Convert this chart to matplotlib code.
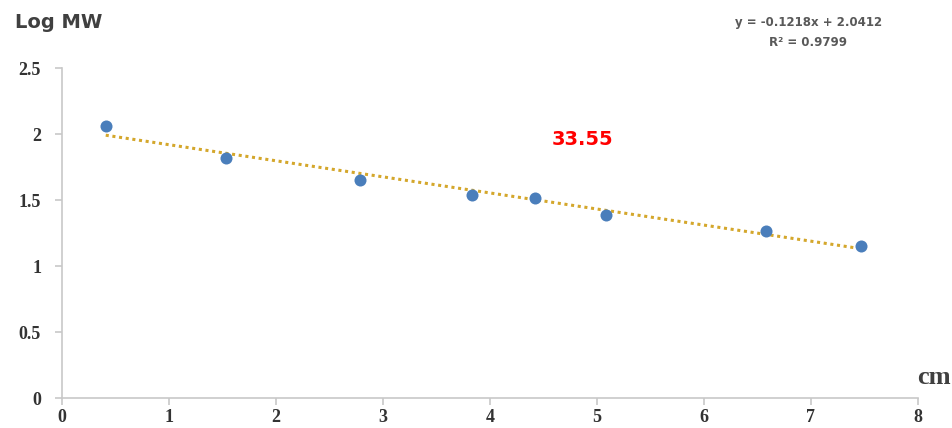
import matplotlib.pyplot as plt

# migration distance (cm) and log molecular weight of the markers
dist_cm = [0.41, 1.53, 2.79, 3.83, 4.42, 5.09, 6.58, 7.47]
log_mw = [2.06, 1.82, 1.65, 1.54, 1.515, 1.39, 1.265, 1.15]

# linear trendline coefficients
slope = -0.1218
intercept = 2.0412
r_squared = 0.9799
sample_mw = "33.55"

x_ticks = [0, 1, 2, 3, 4, 5, 6, 7, 8]
y_ticks = [0, 0.5, 1, 1.5, 2, 2.5]

fig = plt.figure(figsize=(9.52, 4.28), dpi=100)
ax = fig.add_axes([0.065, 0.070, 0.899, 0.771])

tx = [min(dist_cm), max(dist_cm)]
ty = [slope * v + intercept for v in tx]
ax.plot(tx, ty, linestyle=(0, (1, 1.2)), color='#D4A72C', linewidth=2.2, zorder=2)
ax.scatter(dist_cm, log_mw, s=75, color='#4A7EBB', zorder=3, linewidths=0)

ax.set_xlim(0, 8)
ax.set_ylim(0, 2.5)
ax.set_xticks(x_ticks)
ax.set_yticks(y_ticks)
ax.set_xticklabels([str(t) for t in x_ticks])
ax.set_yticklabels([f'{t:g}' for t in y_ticks])
for lab in ax.get_xticklabels() + ax.get_yticklabels():
    lab.set_fontfamily('Liberation Serif')
    lab.set_fontweight('bold')
    lab.set_fontsize(13)
    lab.set_color('#333333')

for side in ['top', 'right']:
    ax.spines[side].set_visible(False)
for side in ['left', 'bottom']:
    ax.spines[side].set_color('#C8C8C8')
    ax.spines[side].set_linewidth(1.2)
ax.tick_params(axis='both', colors='#C8C8C8', length=5, width=1.2)
ax.tick_params(axis='x', pad=3, labelcolor='#333333')
ax.tick_params(axis='y', pad=10, labelcolor='#333333')

fig.text(0.016, 0.948, 'Log MW', fontsize=14, fontweight='bold', color='#404040',
         family='DejaVu Sans', ha='left', va='center')
fig.text(0.999, 0.118, 'cm', fontsize=19, fontweight='bold', color='#404040',
         family='Liberation Serif', ha='right', va='center')
fig.text(0.849, 0.948, f'y = {slope}x + {intercept}', fontsize=8.5, fontweight='bold',
         color='#595959', ha='center', va='center')
fig.text(0.849, 0.900, f'R² = {r_squared}', fontsize=8.5, fontweight='bold',
         color='#595959', ha='center', va='center')
ax.text(4.58, 1.96, sample_mw, fontsize=14, fontweight='bold', color='#FF0000',
        ha='left', va='center')

fig.savefig('out.png', dpi=100)
